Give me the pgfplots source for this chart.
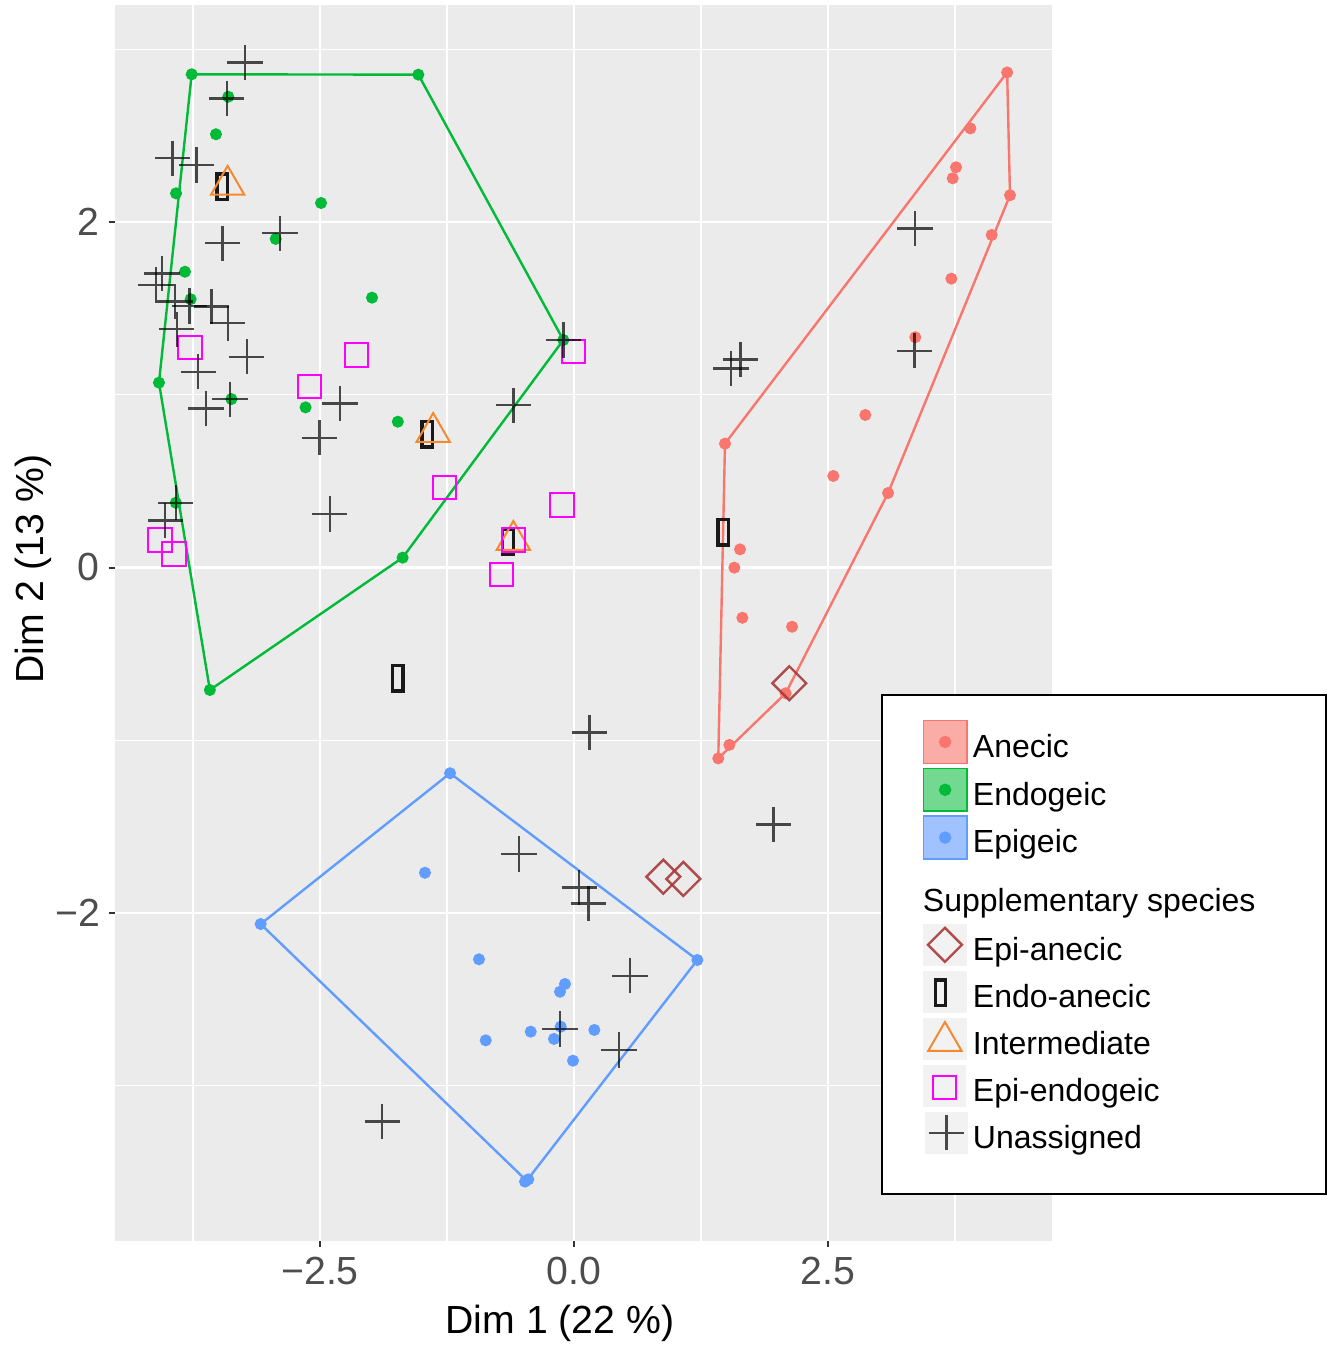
\documentclass[border=0pt]{standalone}
\usepackage{fontspec}
\setmainfont{Liberation Sans}
\usepackage{pgfplots}
\pgfplotsset{compat=1.18}

\definecolor{anecic}{HTML}{F8766D}
\definecolor{endogeic}{HTML}{00BA38}
\definecolor{epigeic}{HTML}{619CFF}
\definecolor{panel}{HTML}{EBEBEB}
\definecolor{keybg}{HTML}{F2F2F2}
\definecolor{tickgray}{HTML}{4D4D4D}
\definecolor{epian}{HTML}{A83A3A}
\definecolor{interm}{HTML}{F5892E}
\definecolor{epiendo}{HTML}{FF00FF}

% strut for the legend texts
\newcommand\ks{\rule[-2.85bp]{0pt}{11.95bp}}

\tikzset{
  mk group/.style={mark=*, mark size=1.3bp},
  mk epian/.style={mark=square, mark size=3bp, mark options={rotate=45, draw=epian, fill=none, line width=0.6bp, opacity=0.9}},
  mk endoan/.style={mark=square, mark size=3.2bp, mark options={xscale=0.41, draw=black!90, fill=none, line width=0.85bp}},
  mk interm/.style={mark=triangle, mark size=4.8bp, mark options={draw=interm, fill=none, line width=0.5bp}},
  mk epiendo/.style={mark=square, mark size=2.9bp, mark options={draw=epiendo, fill=none, line width=0.5bp}},
  mk unass/.style={mark=+, mark size=4.4bp, mark options={draw=black, opacity=0.7, line width=0.6bp}},
  keybox/.style={draw=none, fill=keybg},
  keycell/.style={draw=none},
}

\begin{document}
\begin{tikzpicture}
\begin{axis}[
  scale only axis,
  width=234.25bp, height=308.875bp,
  xmin=-4.5177, xmax=4.7047, ymin=-3.8987, ymax=3.2533,
  axis background/.style={fill=panel},
  axis line style={draw=none},
  tick pos=left, tick align=outside,
  major tick length=1.5bp, minor tick length=0pt,
  tick style={color=black!80, line width=0.5bp},
  xtick={-2.5,0,2.5}, xticklabels={−2.5,0.0,2.5},
  ytick={-2,0,2}, yticklabels={−2,0,2},
  minor xtick={-3.75,-1.25,1.25,3.75},
  minor ytick={-3,-1,1,3},
  grid=both,
  major grid style={white, line width=0.65bp},
  minor grid style={white, line width=0.33bp},
  /pgf/number format/assume math mode=true,
  ticklabel style={font=\fontsize{9.8bp}{11.8bp}\selectfont, color=tickgray, inner sep=0pt},
  xticklabel shift=2.3bp, yticklabel shift=2.1bp,
  label style={font=\fontsize{9.8bp}{11.8bp}\selectfont},
  xlabel={Dim 1 (22 \%)}, ylabel={Dim 2 (13 \%)},
  xlabel style={at={(axis description cs:0.4749,-0.0745)}, anchor=base, inner sep=0pt},
  ylabel style={at={(axis description cs:-0.0758,0.5439)}, anchor=base, inner sep=0pt},
  legend cell align=left,
  legend style={at={(rel axis cs:0.8175,0.4425)}, anchor=north west,
    draw=black, line width=0.5bp, fill=white,
    inner xsep=10.18bp, inner ysep=5.7bp, row sep=0pt, column sep=0pt,
    nodes={inner sep=0pt}, font=\fontsize{8bp}{9.6bp}\selectfont},
]

% legend
\addlegendimage{legend image code/.code={%
  \path[keycell] (0bp,-5.975bp) rectangle (12.5bp,5.975bp);
  \filldraw[draw=anecic, fill=anecic, fill opacity=0.6, line width=0.4bp] (0.15bp,-5.35bp) rectangle (10.95bp,5.35bp);
  \draw[anecic] plot[only marks, mk group] coordinates {(5.55bp,0bp)};}}
\addlegendentry{\ks Anecic}
\addlegendimage{legend image code/.code={%
  \path[keycell] (0bp,-5.975bp) rectangle (12.5bp,5.975bp);
  \filldraw[draw=endogeic, fill=endogeic, fill opacity=0.55, line width=0.4bp] (0.15bp,-5.35bp) rectangle (10.95bp,5.35bp);
  \draw[endogeic] plot[only marks, mk group] coordinates {(5.55bp,0bp)};}}
\addlegendentry{\ks Endogeic}
\addlegendimage{legend image code/.code={%
  \path[keycell] (0bp,-5.975bp) rectangle (12.5bp,5.975bp);
  \filldraw[draw=epigeic, fill=epigeic, fill opacity=0.6, line width=0.4bp] (0.15bp,-5.35bp) rectangle (10.95bp,5.35bp);
  \draw[epigeic] plot[only marks, mk group] coordinates {(5.55bp,0bp)};}}
\addlegendentry{\ks Epigeic}
\addlegendimage{legend image code/.code={%
  \path[keycell] (0bp,-6.27bp) rectangle (0.1bp,8.68bp);}}
\addlegendentry{\hspace*{-12.5bp}\ks\makebox[90.6bp][l]{Supplementary species}}
\addlegendimage{legend image code/.code={%
  \path[keycell] (0bp,-5.875bp) rectangle (12.5bp,5.875bp);
  \path[keybox] (0bp,-5.3bp) rectangle (11bp,5.3bp);
  \draw plot[only marks, mk epian] coordinates {(5.5bp,0bp)};}}
\addlegendentry{\ks Epi-anecic}
\addlegendimage{legend image code/.code={%
  \path[keycell] (0bp,-5.875bp) rectangle (12.5bp,5.875bp);
  \path[keybox] (0bp,-5.3bp) rectangle (11bp,5.3bp);
  \draw plot[only marks, mk endoan] coordinates {(4.4bp,-0.3bp)};}}
\addlegendentry{\ks Endo-anecic}
\addlegendimage{legend image code/.code={%
  \path[keycell] (0bp,-5.875bp) rectangle (12.5bp,5.875bp);
  \path[keybox] (0bp,-5.3bp) rectangle (11bp,5.3bp);
  \draw plot[only marks, mk interm] coordinates {(5.5bp,-0.6bp)};}}
\addlegendentry{\ks Intermediate}
\addlegendimage{legend image code/.code={%
  \path[keycell] (0bp,-5.875bp) rectangle (12.5bp,5.875bp);
  \path[keybox] (0bp,-5.3bp) rectangle (10.8bp,5.3bp);
  \draw plot[only marks, mk epiendo] coordinates {(5.3bp,-0.4bp)};}}
\addlegendentry{\ks Epi-endogeic}
\addlegendimage{legend image code/.code={%
  \path[keycell] (0bp,-9.7bp) rectangle (12.5bp,5.875bp);
  \path[keybox] (0.4bp,-5.3bp) rectangle (11.3bp,5.3bp);
  \draw plot[only marks, mk unass] coordinates {(5.9bp,0bp)};}}
\addlegendentry{\ks Unassigned}

% convex hulls
\addplot[forget plot, anecic, line width=0.6bp, mark=none] coordinates {
  (4.263,2.866) (4.291,2.155) (3.091,0.431) (2.083,-0.728) (1.420,-1.105) (1.486,0.717) (4.263,2.866)};
\addplot[forget plot, endogeic, line width=0.6bp, mark=none] coordinates {
  (-3.763,2.855) (-1.532,2.853) (-0.105,1.317) (-1.687,0.057) (-3.584,-0.709) (-4.085,1.070) (-3.763,2.855)};
\addplot[forget plot, epigeic, line width=0.6bp, mark=none] coordinates {
  (-1.220,-1.191) (1.214,-2.272) (-0.466,-3.550) (-3.084,-2.064) (-1.220,-1.191)};

% species of the three groups
\addplot[forget plot, only marks, mk group, anecic] coordinates {
  (4.263,2.866) (3.901,2.542) (3.760,2.317) (3.727,2.253) (4.291,2.155)
  (4.111,1.925) (3.714,1.672) (3.359,1.333) (2.867,0.883) (2.552,0.530)
  (3.091,0.431) (1.486,0.717) (1.634,0.105) (1.578,-0.001) (1.657,-0.291)
  (2.146,-0.343) (2.083,-0.728) (1.529,-1.027) (1.420,-1.105)};
\addplot[forget plot, only marks, mk group, endogeic] coordinates {
  (-3.763,2.855) (-1.532,2.853) (-3.403,2.725) (-3.524,2.508) (-3.917,2.166)
  (-2.490,2.110) (-2.936,1.902) (-3.829,1.712) (-3.773,1.553) (-1.988,1.562)
  (-4.085,1.070) (-3.372,0.975) (-2.642,0.927) (-1.734,0.844) (-3.919,0.375)
  (-1.687,0.057) (-3.584,-0.709) (-0.105,1.317)};
\addplot[forget plot, only marks, mk group, epigeic] coordinates {
  (-1.220,-1.191) (-3.084,-2.064) (-0.482,-3.555) (-0.450,-3.542) (1.214,-2.272)
  (-1.467,-1.767) (-0.935,-2.268) (-0.089,-2.411) (-0.138,-2.456) (-0.426,-2.687)
  (-0.131,-2.658) (-0.197,-2.729) (0.200,-2.677) (-0.869,-2.737) (-0.010,-2.855)};

% supplementary species
\addplot[forget plot, only marks, mk epian] coordinates {
  (2.119,-0.670) (0.879,-1.790) (1.076,-1.803)};
\addplot[forget plot, only marks, mk endoan] coordinates {
  (-3.462,2.204) (-1.444,0.771) (-0.650,0.149) (-1.734,-0.641) (1.470,0.204)};
\addplot[forget plot, only marks, mk interm] coordinates {
  (-3.409,2.214) (-1.386,0.783) (-0.597,0.158)};
\addplot[forget plot, only marks, mk epiendo] coordinates {
  (-3.780,1.272) (-2.142,1.230) (-2.600,1.050) (-0.009,1.249) (-1.276,0.464)
  (-0.118,0.362) (-0.597,0.159) (-0.717,-0.040) (-4.074,0.159) (-3.937,0.078)};
\addplot[forget plot, only marks, mk unass] coordinates {
  (-3.238,2.924) (-3.418,2.716) (-3.950,2.369) (-3.714,2.330) (-3.458,1.877)
  (-2.894,1.935) (-4.055,1.703) (-4.114,1.635) (-3.927,1.539) (-3.786,1.514)
  (-3.566,1.510) (-3.408,1.414) (-3.910,1.379) (-3.221,1.220) (-3.698,1.133)
  (-3.386,0.974) (-3.622,0.921) (-2.303,0.950) (-0.597,0.940) (-0.105,1.317)
  (-2.505,0.751) (-2.403,0.310) (-3.919,0.375) (-4.023,0.271) (0.153,-0.954)
  (3.356,1.963) (3.350,1.255) (1.637,1.205) (1.545,1.153) (-0.541,-1.658)
  (0.052,-1.853) (0.141,-1.944) (0.551,-2.363) (-0.138,-2.672) (0.443,-2.793)
  (-1.887,-3.208) (1.962,-1.487)};

\end{axis}
% page margins of the reference image
\path ([xshift=-28.75bp,yshift=-28.5bp]current axis.south west)
  rectangle ([xshift=72bp,yshift=1.375bp]current axis.north east);
\end{tikzpicture}
\end{document}
